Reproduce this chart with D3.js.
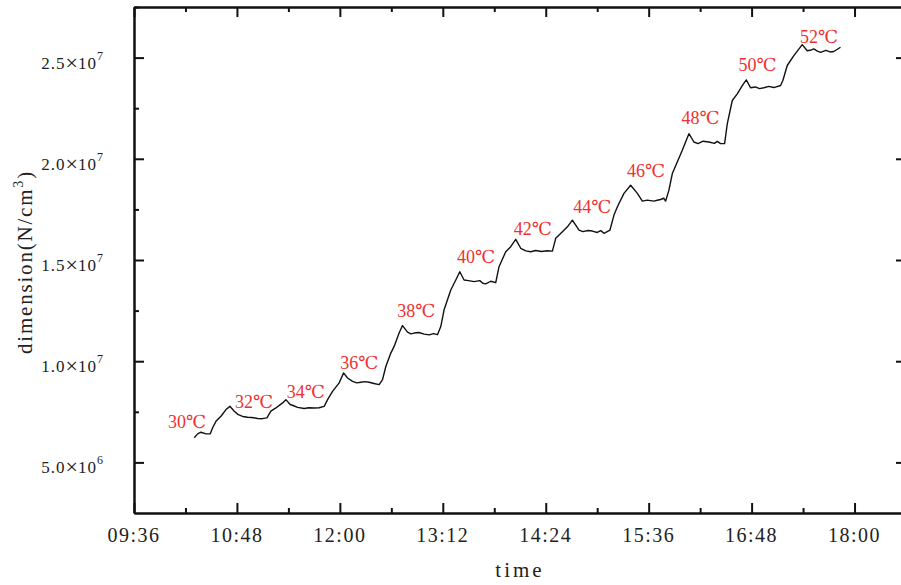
<!DOCTYPE html>
<html>
<head>
<meta charset="utf-8">
<script src="https://cdn.jsdelivr.net/npm/d3@7"></script>
<style>
  body { margin: 0; background: #fff; }
  text { font-family: "Liberation Serif", "DejaVu Serif", serif; fill: #222; }
</style>
</head>
<body>
<div id="chart"></div>
<script>
// dimension vs time, step curve with temperature labels

// sampled curve (time of day, value in 10^6 N/cm^3)
const times = ["10:18:10","10:20:32","10:22:50","10:26:20","10:29:20","10:31:00","10:33:20","10:36:50","10:40:20","10:43:06",
  "10:46:07","10:48:55","10:55:29","11:02:28","11:08:58","11:11:46","11:15:16","11:19:56","11:22:15","11:25:15",
  "11:30:26","11:35:02","11:42:02","11:49:01","11:51:24","11:54:53","11:59:30","12:02:35","12:05:23","12:08:52",
  "12:14:40","12:20:28","12:27:28","12:29:50","12:32:09","12:35:39","12:37:57","12:41:26","12:43:49","12:47:19",
  "12:51:56","12:58:55","13:08:17","13:10:35","13:12:54","13:17:35","13:21:05","13:23:52","13:26:53","13:33:52",
  "13:42:03","13:49:02","13:51:20","13:56:02","13:59:31","14:03:01","14:06:31","14:13:30","14:28:40","14:30:59",
  "14:35:40","14:39:10","14:42:39","14:47:16","14:56:38","15:04:44","15:08:56","15:11:44","15:14:07","15:18:43",
  "15:23:24","15:28:05","15:31:35","15:39:41","15:44:22","15:47:52","15:50:10","15:52:33","15:59:32","16:04:09",
  "16:07:39","16:18:08","16:26:19","16:29:07","16:30:59","16:34:29","16:37:59","16:41:29","16:44:17","16:47:17",
  "16:56:35","17:08:15","17:09:52","17:12:56","17:17:33","17:23:25","17:26:55","17:31:32","17:36:13","17:45:31","17:50:11"];

const values = [6.22,6.41,6.49,6.41,6.41,6.71,7.03,7.28,7.61,7.77,
  7.53,7.36,7.23,7.17,7.20,7.53,7.69,7.94,8.10,7.86,
  7.72,7.66,7.69,7.77,8.10,8.51,8.93,9.42,9.17,9.00,
  8.96,8.96,8.84,9.09,9.74,10.40,10.73,11.39,11.76,11.44,
  11.39,11.34,11.31,11.71,12.54,13.52,14.01,14.42,14.01,13.93,
  13.82,13.88,14.67,15.41,15.66,16.02,15.58,15.41,15.44,16.07,
  16.39,16.64,16.97,16.48,16.43,16.32,16.48,17.22,17.63,18.29,
  18.69,18.29,17.91,17.91,17.99,17.91,18.45,19.27,20.42,21.24,
  20.83,20.83,20.75,20.75,21.73,22.88,23.21,23.62,23.90,23.51,
  23.51,23.62,23.87,24.61,25.10,25.64,25.34,25.43,25.26,25.30,25.51];

// extra small wiggles
const wiggleTimes = ["10:52:00","10:58:30","11:05:40","11:27:40","11:38:20","11:45:30",
  "12:11:50","12:17:30","12:23:50","12:49:40","12:55:20","13:02:30","13:05:30",
  "13:30:00","13:37:50","13:40:00","13:45:30","14:10:00","14:17:00","14:21:00","14:25:00",
  "14:50:00","14:53:30","15:00:00","15:02:30","15:35:00","15:42:00","15:46:30",
  "16:10:30","16:14:00","16:22:00","16:24:00","16:50:40","16:53:30","17:00:00","17:03:30",
  "17:29:00","17:34:00","17:40:00","17:43:00"];
const wiggleValues = [7.27,7.22,7.16,7.80,7.70,7.70,
  8.93,8.99,8.90,11.35,11.42,11.30,11.36,
  13.98,13.98,13.85,13.95,15.45,15.47,15.42,15.46,
  16.40,16.46,16.36,16.45,17.96,17.95,18.05,
  20.75,20.87,20.76,20.86,23.55,23.47,23.58,23.52,
  25.36,25.32,25.36,25.28];

// temperature annotations
const tempLabels = ["30℃","32℃","34℃","36℃","38℃","40℃","42℃","44℃","46℃","48℃","50℃","52℃"];
const labelTimes = ["10:13:10","11:00:00","11:36:10","12:13:40","12:53:30","13:35:20","14:15:00","14:56:30","15:34:10","16:12:20","16:52:10","17:35:10"];
const labelValues = [6.70,7.68,8.18,9.61,12.17,14.84,16.22,17.31,19.08,21.70,24.32,25.70];

// axis ticks
const xTicks = ["09:36","10:48","12:00","13:12","14:24","15:36","16:48","18:00"];
const yTicks = [5, 10, 15, 20, 25];
const yTickText = [["5.0","6"],["1.0","7"],["1.5","7"],["2.0","7"],["2.5","7"]];

const W = 901, H = 585;
const plotL = 134, plotR = 906, plotT = 7, plotB = 513;

const parse = s => {
  const p = s.split(":").map(Number);
  return new Date(2020, 0, 1, p[0], p[1], p[2] || 0);
};

const x = d3.scaleTime()
  .domain([parse("09:36"), parse("18:36")])
  .range([plotL, plotR]);

const y = d3.scaleLinear()
  .domain([2.5, 27.5])
  .range([plotB, plotT]);

const svg = d3.select("#chart").append("svg")
  .attr("width", W)
  .attr("height", H);

const major = xTicks.map(parse);
const minor = d3.range(1, 15, 2).map(i => new Date(parse("09:36").getTime() + i * 36 * 60000));
const yMinor = [7.5, 12.5, 17.5, 22.5, 27.5];

function styleAxis(g) {
  g.selectAll("path, line").attr("stroke", "#111").attr("stroke-width", 2);
  g.selectAll("text").remove();
}

// bottom / top
svg.append("g").attr("transform", `translate(0,${plotB})`)
  .call(d3.axisBottom(x).tickValues(major).tickSize(-10).tickSizeOuter(0)).call(styleAxis);
svg.append("g").attr("transform", `translate(0,${plotB})`)
  .call(d3.axisBottom(x).tickValues(minor).tickSize(-5).tickSizeOuter(0)).call(styleAxis);
svg.append("g").attr("transform", `translate(0,${plotT})`)
  .call(d3.axisTop(x).tickValues(major).tickSize(-10).tickSizeOuter(0)).call(styleAxis);
svg.append("g").attr("transform", `translate(0,${plotT})`)
  .call(d3.axisTop(x).tickValues(minor).tickSize(-5).tickSizeOuter(0)).call(styleAxis);

// left / right
svg.append("g").attr("transform", `translate(${plotL},0)`)
  .call(d3.axisLeft(y).tickValues(yTicks).tickSize(-10).tickSizeOuter(0)).call(styleAxis);
svg.append("g").attr("transform", `translate(${plotL},0)`)
  .call(d3.axisLeft(y).tickValues(yMinor).tickSize(-5).tickSizeOuter(0)).call(styleAxis);
svg.append("g").attr("transform", `translate(${plotR},0)`)
  .call(d3.axisRight(y).tickValues(yTicks).tickSize(-10).tickSizeOuter(0)).call(styleAxis);
svg.append("g").attr("transform", `translate(${plotR},0)`)
  .call(d3.axisRight(y).tickValues(yMinor).tickSize(-5).tickSizeOuter(0)).call(styleAxis);

// x tick labels
svg.append("g").selectAll("text")
  .data(xTicks)
  .enter().append("text")
  .attr("x", d => x(parse(d)))
  .attr("y", plotB + 29)
  .attr("text-anchor", "middle")
  .style("font-size", "20px")
  .style("letter-spacing", "1.5px")
  .text(d => d);

// y tick labels with superscript exponent
const yl = svg.append("g").selectAll("text")
  .data(yTicks.map((v, i) => ({ v, t: yTickText[i] })))
  .enter().append("text")
  .attr("x", 104)
  .attr("y", d => y(d.v) + 11)
  .attr("text-anchor", "end")
  .style("font-size", "17px")
  .style("letter-spacing", "1px");
yl.append("tspan").text(d => d.t[0]);
yl.append("tspan").attr("dy", 1).style("font-size", "22px").style("letter-spacing", "0px").text("×");
yl.append("tspan").attr("dy", -1).text("10");
yl.append("tspan").attr("dy", -9).style("font-size", "12px").text(d => d.t[1]);

// axis titles
svg.append("text")
  .attr("x", 520)
  .attr("y", 577)
  .attr("text-anchor", "middle")
  .style("font-size", "21px")
  .style("letter-spacing", "3px")
  .text("time");

const yt = svg.append("text")
  .attr("transform", `translate(32,${(plotT + plotB) / 2 + 2}) rotate(-90)`)
  .attr("text-anchor", "middle")
  .style("font-size", "21px")
  .style("letter-spacing", "1.8px");
yt.append("tspan").text("dimension(N/cm");
yt.append("tspan").attr("dy", -9).style("font-size", "14px").text("3");
yt.append("tspan").attr("dy", 9).text(")");

// curve
const data = times.map((t, i) => ({ t: parse(t), v: values[i] }))
  .concat(wiggleTimes.map((t, i) => ({ t: parse(t), v: wiggleValues[i] })))
  .sort((a, b) => a.t - b.t);
svg.append("path")
  .datum(data)
  .attr("fill", "none")
  .attr("stroke", "#111")
  .attr("stroke-width", 1.4)
  .attr("stroke-linejoin", "round")
  .attr("d", d3.line().x(d => x(d.t)).y(d => y(d.v)));

// temperature labels
svg.append("g").selectAll("text")
  .data(tempLabels.map((s, i) => ({ s, t: parse(labelTimes[i]), v: labelValues[i] })))
  .enter().append("text")
  .attr("x", d => x(d.t))
  .attr("y", d => y(d.v))
  .attr("text-anchor", "middle")
  .style("font-size", "18px")
  .style("fill", "#f03030")
  .text(d => d.s);
</script>
</body>
</html>
